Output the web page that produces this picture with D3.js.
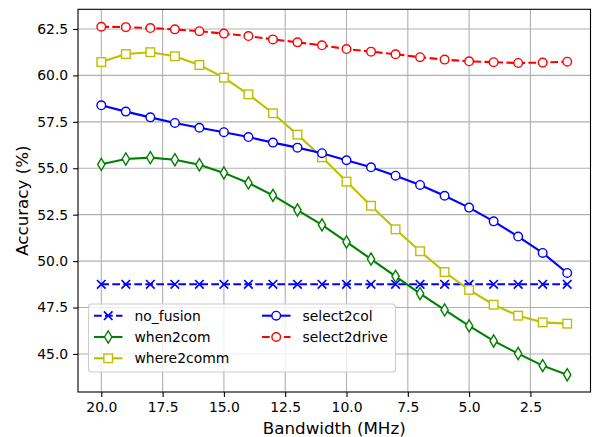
<!DOCTYPE html>
<html>
<head>
<script src="https://d3js.org/d3.v7.min.js" charset="utf-8"></script>
<meta charset="utf-8"/>
<style>
  body { margin: 0; overflow: hidden; background: #fff; }
  svg text { font-family: "DejaVu Sans", sans-serif; fill: #000; }
</style>
</head>
<body>
<svg id="svg" width="592" height="437"></svg>
<script>

// bandwidth values on the x axis (MHz)
var bandwidth = [20, 19, 18, 17, 16, 15, 14, 13, 12, 11, 10, 9, 8, 7, 6, 5, 4, 3, 2, 1];

var no_fusion    = [48.75, 48.75, 48.75, 48.75, 48.75, 48.75, 48.75, 48.75, 48.75, 48.75,
                    48.75, 48.75, 48.75, 48.75, 48.75, 48.75, 48.75, 48.75, 48.75, 48.75];
var when2com     = [55.21, 55.50, 55.57, 55.46, 55.19, 54.75, 54.21, 53.54, 52.75, 51.95,
                    51.03, 50.11, 49.18, 48.25, 47.37, 46.51, 45.70, 45.02, 44.37, 43.88];
var where2comm   = [60.72, 61.15, 61.25, 61.03, 60.56, 59.88, 58.98, 57.96, 56.81, 55.59,
                    54.28, 52.98, 51.71, 50.53, 49.41, 48.45, 47.65, 47.06, 46.70, 46.63];
var select2col   = [58.39, 58.05, 57.74, 57.44, 57.18, 56.94, 56.68, 56.38, 56.11, 55.81,
                    55.43, 55.05, 54.60, 54.10, 53.52, 52.88, 52.14, 51.32, 50.44, 49.36];
var select2drive = [62.62, 62.60, 62.55, 62.48, 62.38, 62.25, 62.12, 61.94, 61.78, 61.62,
                    61.42, 61.28, 61.14, 60.98, 60.85, 60.76, 60.71, 60.67, 60.69, 60.74];

var xTicks = [20, 17.5, 15, 12.5, 10, 7.5, 5, 2.5];
var yTicks = [45, 47.5, 50, 52.5, 55, 57.5, 60, 62.5];

var series = [
  { name: "no_fusion",    values: no_fusion,    color: "#0000ff", dash: true,  marker: "x" },
  { name: "when2com",     values: when2com,     color: "#008000", dash: false, marker: "d" },
  { name: "where2comm",   values: where2comm,   color: "#bfbf00", dash: false, marker: "s" },
  { name: "select2col",   values: select2col,   color: "#0000ff", dash: false, marker: "o" },
  { name: "select2drive", values: select2drive, color: "#ff0000", dash: true,  marker: "o" }
];

var pLeft = 78, pRight = 590.5, pTop = 9.3, pBottom = 392;
var svg = d3.select("#svg");

// matplotlib style 5% margins
var x = d3.scaleLinear().domain([20.95, 0.05]).range([pLeft, pRight]);
var y = d3.scaleLinear().domain([42.95, 63.56]).range([pBottom, pTop]);

// grid
var grid = svg.append("g");
grid.selectAll(".gx").data(xTicks).enter().append("line")
  .attr("x1", d => x(d)).attr("x2", d => x(d))
  .attr("y1", pTop).attr("y2", pBottom)
  .attr("stroke", "#b0b0b0").attr("stroke-width", 1.1);
grid.selectAll(".gy").data(yTicks).enter().append("line")
  .attr("x1", pLeft).attr("x2", pRight)
  .attr("y1", d => y(d)).attr("y2", d => y(d))
  .attr("stroke", "#b0b0b0").attr("stroke-width", 1.1);

// axes
var xAxis = svg.append("g")
  .attr("transform", "translate(0," + pBottom + ")")
  .call(d3.axisBottom(x).tickValues(xTicks).tickFormat(d3.format(".1f")).tickSizeOuter(0).tickSize(4.9).tickPadding(4.9));
var yAxis = svg.append("g")
  .attr("transform", "translate(" + pLeft + ",0)")
  .call(d3.axisLeft(y).tickValues(yTicks).tickFormat(d3.format(".1f")).tickSizeOuter(0).tickSize(4.9).tickPadding(4.9));
[xAxis, yAxis].forEach(function(a) {
  a.select(".domain").remove();
  a.selectAll("line").attr("stroke", "#000").attr("stroke-width", 1.1);
  a.selectAll("text").style("font-family", "DejaVu Sans").style("font-size", "13.9px");
});

// frame
svg.append("rect")
  .attr("x", pLeft).attr("y", pTop)
  .attr("width", pRight - pLeft).attr("height", pBottom - pTop)
  .attr("fill", "none").attr("stroke", "#000").attr("stroke-width", 1.1);

svg.append("text")
  .attr("x", (pLeft + pRight) / 2).attr("y", 434)
  .attr("text-anchor", "middle")
  .style("font-size", "16.7px")
  .text("Bandwidth (MHz)");
svg.append("text")
  .attr("transform", "translate(28," + ((pTop + pBottom) / 2) + ") rotate(-90)")
  .attr("text-anchor", "middle")
  .style("font-size", "16.7px")
  .text("Accuracy (%)");

var ms = 8.6;
function drawMarker(g, s, cx, cy) {
  var h = ms / 2;
  if (s.marker == "o") {
    g.append("circle").attr("cx", cx).attr("cy", cy).attr("r", h)
      .attr("fill", "#fff").attr("stroke", s.color).attr("stroke-width", 1.4);
  } else if (s.marker == "s") {
    g.append("rect").attr("x", cx - h).attr("y", cy - h).attr("width", ms).attr("height", ms)
      .attr("fill", "#fff").attr("stroke", s.color).attr("stroke-width", 1.4);
  } else if (s.marker == "d") {
    // thin diamond: rotated square, squeezed sideways
    var dh = h * Math.SQRT2, w = dh * 0.6;
    g.append("path")
      .attr("d", "M" + cx + "," + (cy - dh) + "L" + (cx + w) + "," + cy + "L" + cx + "," + (cy + dh) + "L" + (cx - w) + "," + cy + "Z")
      .attr("fill", "#fff").attr("stroke", s.color).attr("stroke-width", 1.4);
  } else if (s.marker == "x") {
    g.append("path")
      .attr("d", "M" + (cx - h) + "," + (cy - h) + "L" + (cx + h) + "," + (cy + h) + "M" + (cx - h) + "," + (cy + h) + "L" + (cx + h) + "," + (cy - h))
      .attr("fill", "none").attr("stroke", s.color).attr("stroke-width", 1.7);
  }
}

var line = d3.line().x(d => x(d[0])).y(d => y(d[1]));

series.forEach(function(s) {
  var pts = bandwidth.map((b, i) => [b, s.values[i]]);
  var g = svg.append("g");
  g.append("path")
    .attr("d", line(pts))
    .attr("fill", "none")
    .attr("stroke", s.color)
    .attr("stroke-width", 2.1)
    .attr("stroke-dasharray", s.dash ? "7.7,3.3" : null);
  pts.forEach(function(p) { drawMarker(g, s, x(p[0]), y(p[1])); });
});

// legend (two columns)
var legend = svg.append("g");
legend.append("rect")
  .attr("x", 88.5).attr("y", 304).attr("width", 307).attr("height", 68)
  .attr("rx", 3).attr("fill", "#fff").attr("fill-opacity", 0.8)
  .attr("stroke", "#cccccc").attr("stroke-width", 1.1);
var colX = [94, 262], rowY = [315.7, 337, 358.3];
series.forEach(function(s, i) {
  var c = i < 3 ? 0 : 1, r = i < 3 ? i : i - 3;
  var lx = colX[c], ly = rowY[r];
  var g = legend.append("g");
  g.append("line")
    .attr("x1", lx).attr("x2", lx + 28.5).attr("y1", ly).attr("y2", ly)
    .attr("stroke", s.color).attr("stroke-width", 2.1)
    .attr("stroke-dasharray", s.dash ? "7.7,3.3" : null);
  drawMarker(g, s, lx + 14.2, ly);
  g.append("text")
    .attr("x", lx + 40.5).attr("y", ly)
    .attr("dy", "0.36em")
    .style("font-size", "13.9px")
    .text(s.name);
});

</script>
</body>
</html>
